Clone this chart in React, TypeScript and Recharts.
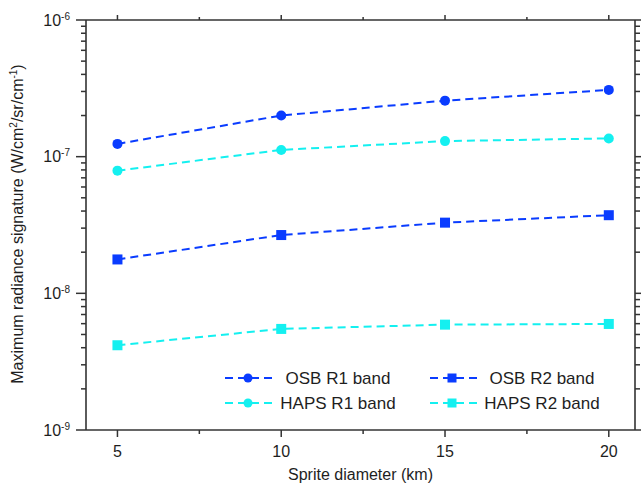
import React from "react";
import { LineChart, Line, XAxis, YAxis, Legend } from "recharts";

// sprite diameter (km)
const diameters = [5, 10, 15, 20];

// maximum radiance signature (W/cm2/sr/cm-1)
const osbR1 = [1.24e-7, 2.0e-7, 2.57e-7, 3.08e-7];
const hapsR1 = [7.9e-8, 1.12e-7, 1.3e-7, 1.36e-7];
const osbR2 = [1.77e-8, 2.67e-8, 3.29e-8, 3.73e-8];
const hapsR2 = [4.17e-9, 5.49e-9, 5.9e-9, 5.97e-9];

const xTicks = [5, 7.5, 10, 12.5, 15, 17.5, 20];
const xLabels = [5, 10, 15, 20];
const decades = [-9, -8, -7];

const BLUE = "#0a3cff";
const CYAN = "#14f0f0";
const AXIS = "#333";
const TEXT = "#1e1e1e";
const FONT = "'Liberation Sans', Arial, sans-serif";

const yTicks: number[] = [];
decades.forEach((d) => {
  for (let k = 1; k <= 9; k++) yTicks.push(k * Math.pow(10, d));
});
yTicks.push(1e-6);

const series = [
  { key: "osbR1", name: "OSB R1 band", color: BLUE, shape: "circle", values: osbR1 },
  { key: "hapsR1", name: "HAPS R1 band", color: CYAN, shape: "circle", values: hapsR1 },
  { key: "osbR2", name: "OSB R2 band", color: BLUE, shape: "square", values: osbR2 },
  { key: "hapsR2", name: "HAPS R2 band", color: CYAN, shape: "square", values: hapsR2 },
];

const data = diameters.map((d, i) => {
  const row: Record<string, number> = { d };
  series.forEach((s) => (row[s.key] = s.values[i]));
  return row;
});

const isDecade = (v: number) => {
  const l = Math.log10(v);
  return Math.abs(l - Math.round(l)) < 1e-6;
};

const Marker = ({ x, y, color, shape, size }: any) =>
  shape === "circle" ? (
    <circle cx={x} cy={y} r={size} fill={color} />
  ) : (
    <rect x={x - size} y={y - size} width={size * 2} height={size * 2} fill={color} />
  );

const makeDot = (color: string, shape: string) => (props: any) => {
  const { cx, cy, index } = props;
  if (cx == null || cy == null) return <g key={index} />;
  return (
    <g key={index}>
      <Marker x={cx} y={cy} color={color} shape={shape} size={5} />
    </g>
  );
};

const LeftTick = ({ x, y, payload }: any) => {
  const v = payload.value;
  const major = isDecade(v);
  const e = Math.round(Math.log10(v));
  return (
    <g>
      <line x1={x - (major ? 10 : 5)} x2={x} y1={y} y2={y} stroke={AXIS} strokeWidth={1.5} />
      {major && (
        <text x={x - 16} y={y + 5.5} textAnchor="end" fontSize={16} fill={TEXT} fontFamily={FONT}>
          10
          <tspan dy={-6} fontSize={10}>
            {e}
          </tspan>
        </text>
      )}
    </g>
  );
};

const RightTick = ({ x, y, payload }: any) => {
  const major = isDecade(payload.value);
  return <line x1={x} x2={x + (major ? 10 : 5)} y1={y} y2={y} stroke={AXIS} strokeWidth={1.5} />;
};

const BottomTick = ({ x, y, payload }: any) => {
  const major = xLabels.includes(payload.value);
  return (
    <g>
      <line x1={x} x2={x} y1={y} y2={y + (major ? 7 : 4)} stroke={AXIS} strokeWidth={1.5} />
      {major && (
        <text x={x} y={y + 27} textAnchor="middle" fontSize={16} fill={TEXT} fontFamily={FONT}>
          {payload.value}
        </text>
      )}
    </g>
  );
};

const TopTick = ({ x, y, payload }: any) => {
  const major = xLabels.includes(payload.value);
  return <line x1={x} x2={x} y1={y} y2={y - (major ? 5 : 3)} stroke={AXIS} strokeWidth={1.5} />;
};

const XTitle = ({ viewBox }: any) => (
  <text
    x={viewBox.x + viewBox.width / 2}
    y={480}
    textAnchor="middle"
    fontSize={16}
    fill={TEXT}
    fontFamily={FONT}
  >
    Sprite diameter (km)
  </text>
);

const YTitle = () => (
  <text
    transform="translate(23,224) rotate(-90)"
    textAnchor="middle"
    fontSize={16}
    fill={TEXT}
    fontFamily={FONT}
  >
    Maximum radiance signature (W/cm
    <tspan dy={-6} fontSize={10}>2</tspan>
    <tspan dy={6}>/sr/cm</tspan>
    <tspan dy={-6} fontSize={10}>-1</tspan>
    <tspan dy={6}>)</tspan>
  </text>
);

// two columns: R1 bands on the left, R2 bands on the right
const legendCols = [
  { sample: 5, marker: 28, center: 118, items: [series[0], series[1]] },
  { sample: 210, marker: 232, center: 322, items: [series[2], series[3]] },
];
const legendRows = [13, 38];

const LegendBox = () => (
  <svg width={400} height={50} style={{ display: "block" }}>
    {legendCols.map((col, ci) =>
      col.items.map((s, ri) => {
        const y = legendRows[ri];
        return (
          <g key={`${ci}-${ri}`}>
            <line
              x1={col.sample}
              x2={col.sample + 47}
              y1={y}
              y2={y}
              stroke={s.color}
              strokeWidth={2}
              strokeDasharray="8 5"
            />
            <Marker x={col.marker} y={y} color={s.color} shape={s.shape} size={4.5} />
            <text
              x={col.center}
              y={y + 6}
              textAnchor="middle"
              fontSize={17}
              fill={TEXT}
              fontFamily={FONT}
            >
              {s.name}
            </text>
          </g>
        );
      })
    )}
  </svg>
);

export default function App() {
  return (
    <div style={{ position: "absolute", left: 0, top: 0, background: "#fff" }}>
      <LineChart width={641} height={485} data={data} margin={{ top: 0, right: 0, bottom: 25, left: 0 }}>
        <XAxis
          xAxisId="bottom"
          dataKey="d"
          type="number"
          domain={[4.04, 20.8]}
          allowDataOverflow
          ticks={xTicks}
          interval={0}
          height={30}
          tickSize={0}
          tickMargin={0}
          tickLine={false}
          tick={<BottomTick />}
          axisLine={{ stroke: AXIS, strokeWidth: 1.6 }}
          label={<XTitle />}
        />
        <XAxis
          xAxisId="top"
          orientation="top"
          dataKey="d"
          type="number"
          domain={[4.04, 20.8]}
          allowDataOverflow
          ticks={xTicks}
          interval={0}
          height={20}
          tickSize={0}
          tickMargin={0}
          tickLine={false}
          tick={<TopTick />}
          axisLine={{ stroke: AXIS, strokeWidth: 1.6 }}
        />
        <YAxis
          yAxisId="left"
          type="number"
          scale="log"
          domain={[1e-9, 1e-6]}
          allowDataOverflow
          ticks={yTicks}
          interval={0}
          width={86}
          tickSize={0}
          tickMargin={0}
          tickLine={false}
          tick={<LeftTick />}
          axisLine={{ stroke: AXIS, strokeWidth: 1.6 }}
          label={<YTitle />}
        />
        <YAxis
          yAxisId="right"
          orientation="right"
          type="number"
          scale="log"
          domain={[1e-9, 1e-6]}
          allowDataOverflow
          ticks={yTicks}
          interval={0}
          width={6}
          tickSize={0}
          tickMargin={0}
          tickLine={false}
          tick={<RightTick />}
          axisLine={{ stroke: AXIS, strokeWidth: 1.6 }}
        />
        <Legend
          layout="horizontal"
          verticalAlign="middle"
          align="center"
          content={<LegendBox />}
          wrapperStyle={{ left: 220, top: 365, width: 400, height: 50 }}
        />
        {series.map((s) => (
          <Line
            key={s.key}
            xAxisId="bottom"
            yAxisId="left"
            type="linear"
            dataKey={s.key}
            name={s.name}
            stroke={s.color}
            strokeWidth={2}
            strokeDasharray="8 5"
            dot={makeDot(s.color, s.shape)}
            activeDot={false}
            isAnimationActive={false}
          />
        ))}
      </LineChart>
    </div>
  );
}
